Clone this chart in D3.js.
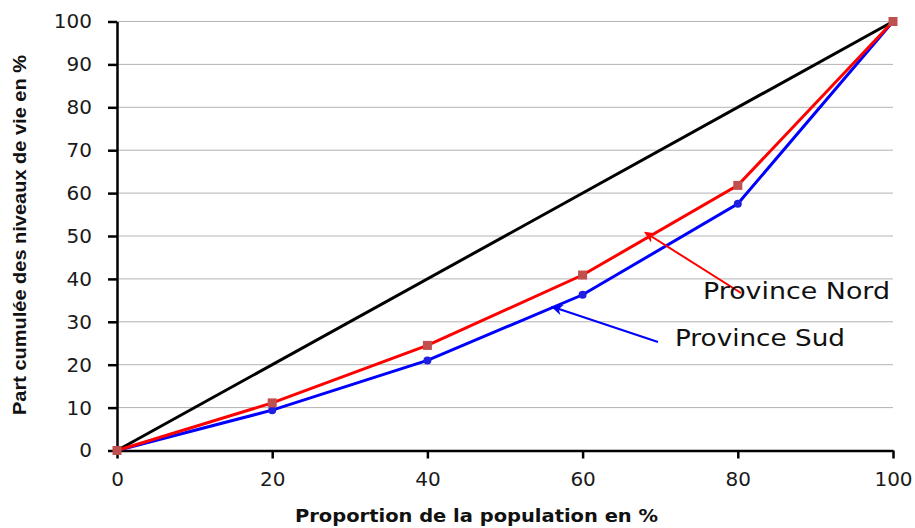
<!DOCTYPE html>
<html>
<head>
<meta charset="utf-8">
<script src="https://cdn.jsdelivr.net/npm/d3@7"></script>
<style>
  body { margin: 0; background: #fff; }
  svg { display: block; }
</style>
</head>
<body>
<svg id="chart" width="915" height="528"></svg>
<script>
// Courbes de Lorenz : part cumulée des niveaux de vie par province
const populationShare = [0, 20, 40, 60, 80, 100];
const provinceNord = [0, 11.1, 24.5, 40.9, 61.8, 100];
const provinceSud = [0, 9.4, 21.0, 36.3, 57.5, 100];
const equality = [0, 100];
const equalityX = [0, 100];
const xTicks = [0, 20, 40, 60, 80, 100];
const yTicks = [0, 10, 20, 30, 40, 50, 60, 70, 80, 90, 100];

const svg = d3.select("#chart");
const margin = { left: 117, right: 22, top: 21.5, bottom: 77.5 };
const W = 915, H = 528;

const x = d3.scaleLinear().domain([0, 100]).range([margin.left, W - margin.right]);
const y = d3.scaleLinear().domain([0, 100]).range([H - margin.bottom, margin.top]);

const tickFont = "'DejaVu Sans', 'Noto Sans', sans-serif";

// horizontal gridlines
svg.append("g")
  .selectAll("line")
  .data(yTicks.filter(d => d > 0))
  .join("line")
  .attr("x1", x(0)).attr("x2", x(100))
  .attr("y1", d => y(d)).attr("y2", d => y(d))
  .attr("stroke", "#b3b3b3").attr("stroke-width", 1);

// y axis
const yAxis = svg.append("g")
  .attr("transform", `translate(${x(0)},0)`)
  .call(d3.axisLeft(y).tickValues(yTicks).tickSize(9).tickPadding(16).tickSizeOuter(0));
yAxis.select(".domain").attr("stroke", "#000").attr("stroke-width", 2.5);
yAxis.selectAll(".tick line").attr("stroke", "#000").attr("stroke-width", 2.5);
yAxis.selectAll(".tick text")
  .attr("font-family", tickFont).attr("font-size", 20).attr("fill", "#1a1a1a");

// x axis
const xAxis = svg.append("g")
  .attr("transform", `translate(0,${y(0)})`)
  .call(d3.axisBottom(x).tickValues(xTicks).tickSize(8).tickPadding(13).tickSizeOuter(0));
xAxis.select(".domain").attr("stroke", "#000").attr("stroke-width", 2.5);
xAxis.selectAll(".tick line").attr("stroke", "#000").attr("stroke-width", 2.5);
xAxis.selectAll(".tick text")
  .attr("font-family", tickFont).attr("font-size", 20).attr("fill", "#1a1a1a");

// axis titles
svg.append("text")
  .attr("x", 295).attr("y", 522)
  .attr("font-family", "'DejaVu Sans', 'Open Sans', sans-serif")
  .attr("font-weight", "bold").attr("font-size", 17)
  .attr("textLength", 363).attr("lengthAdjust", "spacingAndGlyphs")
  .attr("fill", "#111")
  .text("Proportion de la population en %");

svg.append("text")
  .attr("transform", "translate(26,415) rotate(-90)")
  .attr("font-family", "'Liberation Sans Narrow', 'Liberation Sans', sans-serif")
  .attr("font-weight", "bold").attr("font-size", 19)
  .attr("textLength", 360).attr("lengthAdjust", "spacingAndGlyphs")
  .attr("fill", "#111")
  .text("Part cumulée des niveaux de vie en %");

const line = d3.line().x(d => x(d[0])).y(d => y(d[1]));

// line of perfect equality
svg.append("path")
  .datum(equalityX.map((v, i) => [v, equality[i]]))
  .attr("d", line)
  .attr("fill", "none").attr("stroke", "#000").attr("stroke-width", 3);

const sudPts = populationShare.map((v, i) => [v, provinceSud[i]]);
const nordPts = populationShare.map((v, i) => [v, provinceNord[i]]);

svg.append("path").datum(sudPts).attr("d", line)
  .attr("fill", "none").attr("stroke", "#0000ff").attr("stroke-width", 3);
svg.append("g").selectAll("circle").data(sudPts).join("circle")
  .attr("cx", d => x(d[0])).attr("cy", d => y(d[1])).attr("r", 4)
  .attr("fill", "#1f1fe0");

svg.append("path").datum(nordPts).attr("d", line)
  .attr("fill", "none").attr("stroke", "#ff0000").attr("stroke-width", 3);
svg.append("g").selectAll("rect").data(nordPts).join("rect")
  .attr("x", d => x(d[0]) - 4.5).attr("y", d => y(d[1]) - 4.5)
  .attr("width", 9).attr("height", 9)
  .attr("fill", "#c0504d");

// callout arrows and labels
const defs = svg.append("defs");
function arrowMarker(id, color) {
  defs.append("marker")
    .attr("id", id).attr("viewBox", "0 0 10 10")
    .attr("refX", 8).attr("refY", 5)
    .attr("markerWidth", 6).attr("markerHeight", 6)
    .attr("orient", "auto-start-reverse")
    .append("path").attr("d", "M0,0.5 L10,5 L0,9.5 L3,5 Z").attr("fill", color);
}
arrowMarker("arrowRed", "#ff0000");
arrowMarker("arrowBlue", "#0000ff");

svg.append("line")
  .attr("x1", 741).attr("y1", 293).attr("x2", 646).attr("y2", 233)
  .attr("stroke", "#ff0000").attr("stroke-width", 2)
  .attr("marker-end", "url(#arrowRed)");
svg.append("line")
  .attr("x1", 658).attr("y1", 342).attr("x2", 553).attr("y2", 307)
  .attr("stroke", "#0000ff").attr("stroke-width", 2)
  .attr("marker-end", "url(#arrowBlue)");

svg.append("text")
  .attr("x", 703).attr("y", 299)
  .attr("font-family", "'DejaVu Sans', 'Noto Sans', sans-serif")
  .attr("font-size", 23).attr("fill", "#111")
  .attr("textLength", 187).attr("lengthAdjust", "spacingAndGlyphs")
  .text("Province Nord");
svg.append("text")
  .attr("x", 675).attr("y", 346)
  .attr("font-family", "'DejaVu Sans', 'Noto Sans', sans-serif")
  .attr("font-size", 23).attr("fill", "#111")
  .attr("textLength", 170).attr("lengthAdjust", "spacingAndGlyphs")
  .text("Province Sud");
</script>
</body>
</html>
